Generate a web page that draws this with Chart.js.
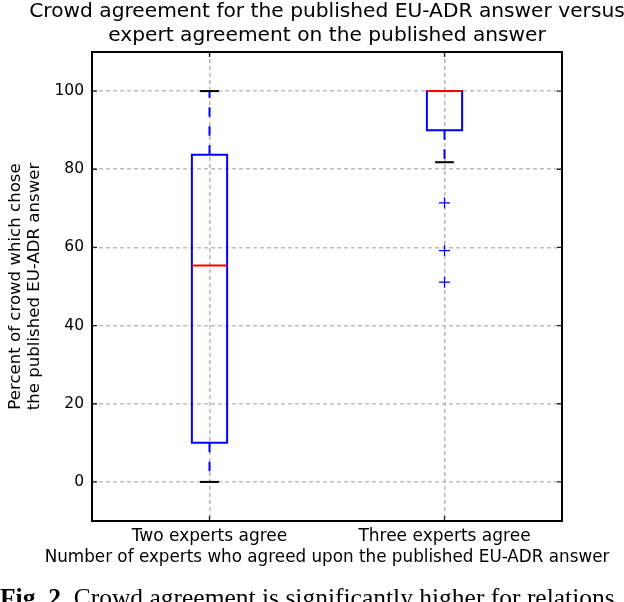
<!DOCTYPE html>
<html><head><meta charset="utf-8">
<script src="https://cdn.jsdelivr.net/npm/chart.js@4.4.1/dist/chart.umd.min.js"></script>
<style>
html,body{margin:0;padding:0;background:#fff;overflow:hidden;width:624px;height:602px}
#wrap{position:relative;width:624px;height:602px;overflow:hidden}
canvas{position:absolute;left:0;top:0}
#cap{position:absolute;left:0;top:584.5px;font-family:"Liberation Serif","Times New Roman",serif;font-size:25.5px;line-height:25.5px;white-space:nowrap;color:#000}
</style></head>
<body><div id="wrap"><canvas id="c" width="624" height="602"></canvas><div id="cap"><b>Fig. 2.</b> Crowd agreement is significantly higher for relations</div></div>
<script>
const categories = ['Two experts agree', 'Three experts agree'];
const whiskerLow = [0, 81.8];
const q1 = [10, 90];
const median = [55.4, 100];
const q3 = [83.7, 100];
const whiskerHigh = [100, 100];
const outliers = [[], [71.4, 59.2, 51.1]];
const yTicks = [0, 20, 40, 60, 80, 100];
const titleLines = ['Crowd agreement for the published EU-ADR answer versus', 'expert agreement on the published answer'];
const xTitle = 'Number of experts who agreed upon the published EU-ADR answer';
const yTitle = ['Percent of crowd which chose', 'the published EU-ADR answer'];

const BLUE = '#0000ff', RED = '#ff0000', BLACK = '#000000';
const BOX_HALF = 0.075, CAP_HALF = 0.04;
const FONT = '"DejaVu Sans", sans-serif';

function seg(points, color, width, dash, order, cap) {
  return { data: points, showLine: true, borderColor: color, borderWidth: width,
    borderDash: dash, pointRadius: 0, pointHoverRadius: 0, order: order, tension: 0,
    borderCapStyle: cap || 'butt', borderJoinStyle: 'miter', fill: false };
}

const datasets = [];
categories.forEach((c, i) => {
  const x = i + 1;
  datasets.push(seg([{x: x - BOX_HALF, y: median[i]}, {x: x + BOX_HALF, y: median[i]}], RED, 2, [], 1));
  datasets.push(seg([{x: x - CAP_HALF, y: whiskerLow[i]}, {x: x + CAP_HALF, y: whiskerLow[i]}], BLACK, 2, [], 2));
  datasets.push(seg([{x: x - CAP_HALF, y: whiskerHigh[i]}, {x: x + CAP_HALF, y: whiskerHigh[i]}], BLACK, 2, [], 2));
  datasets.push(seg([
    {x: x - BOX_HALF, y: q1[i]}, {x: x + BOX_HALF, y: q1[i]}, {x: x + BOX_HALF, y: q3[i]},
    {x: x - BOX_HALF, y: q3[i]}, {x: x - BOX_HALF, y: q1[i]}], BLUE, 2, [], 3, 'square'));
  datasets.push(seg([{x: x, y: q1[i]}, {x: x, y: whiskerLow[i]}], BLUE, 2, [9.5, 9.5], 4));
  datasets.push(seg([{x: x, y: q3[i]}, {x: x, y: whiskerHigh[i]}], BLUE, 2, [9.5, 9.5], 4));
  if (outliers[i].length) {
    datasets.push({ data: outliers[i].map(v => ({x: x, y: v})), showLine: false,
      pointStyle: 'cross', pointRadius: 5.5, pointHoverRadius: 5.5, borderColor: BLUE,
      backgroundColor: BLUE, pointBorderWidth: 1.2, order: 0 });
  }
});

const TICK = 5;
const framePlugin = {
  id: 'frame',
  afterDraw(chart) {
    const {ctx, chartArea: a, scales: {x, y}} = chart;
    ctx.save();
    ctx.strokeStyle = '#222';
    ctx.lineWidth = 1.3;
    ctx.beginPath();
    yTicks.forEach(v => {
      const p = y.getPixelForValue(v);
      ctx.moveTo(a.left, p); ctx.lineTo(a.left + TICK, p);
      ctx.moveTo(a.right, p); ctx.lineTo(a.right - TICK, p);
    });
    categories.forEach((c, i) => {
      const p = x.getPixelForValue(i + 1);
      ctx.moveTo(p, a.top); ctx.lineTo(p, a.top + TICK);
      ctx.moveTo(p, a.bottom); ctx.lineTo(p, a.bottom - TICK);
    });
    ctx.stroke();
    ctx.strokeStyle = '#000';
    ctx.lineWidth = 2;
    ctx.strokeRect(a.left, a.top, a.right - a.left, a.bottom - a.top);
    // centred titles over the axes, as matplotlib does
    const cx = (a.left + a.right) / 2;
    ctx.fillStyle = '#000';
    ctx.textAlign = 'center';
    ctx.textBaseline = 'middle';
    ctx.font = '20.2px ' + FONT;
    titleLines.forEach((t, k) => ctx.fillText(t, cx, a.top - 40 + k * 24));
    ctx.font = '16.8px ' + FONT;
    ctx.fillText(xTitle, cx, a.bottom + 37);
    ctx.restore();
  }
};

new Chart(document.getElementById('c'), {
  type: 'scatter',
  data: { datasets: datasets },
  plugins: [framePlugin],
  options: {
    responsive: false, animation: false, events: [],
    layout: { padding: { left: 0, right: 62, top: 52, bottom: 0 } },
    plugins: {
      legend: { display: false }, tooltip: { enabled: false }, title: { display: false }
    },
    scales: {
      x: { type: 'linear', min: 0.5, max: 2.5,
        afterBuildTicks: s => { s.ticks = categories.map((c, i) => ({ value: i + 1 })); },
        afterFit: s => { s.height = 81; },
        ticks: { callback: v => categories[v - 1], color: '#000', padding: 5, maxRotation: 0, autoSkip: false,
          font: { family: FONT, size: 17 } },
        grid: { color: '#bdbdbd', lineWidth: 1.6, drawTicks: false },
        border: { display: false, dash: [4, 3] },
        title: { display: false } },
      y: { type: 'linear', min: -10, max: 110,
        afterBuildTicks: s => { s.ticks = yTicks.map(v => ({ value: v })); },
        afterFit: s => { s.width = 92; },
        ticks: { color: '#000', padding: 8, font: { family: FONT, size: 15.5 } },
        grid: { color: '#bdbdbd', lineWidth: 1.6, drawTicks: false },
        border: { display: false, dash: [4, 3] },
        title: { display: true, text: yTitle, color: '#000', font: { family: FONT, size: 16.6, lineHeight: '19px' },
          padding: { top: 6, bottom: 0 } } }
    }
  }
});
</script>
</body></html>
